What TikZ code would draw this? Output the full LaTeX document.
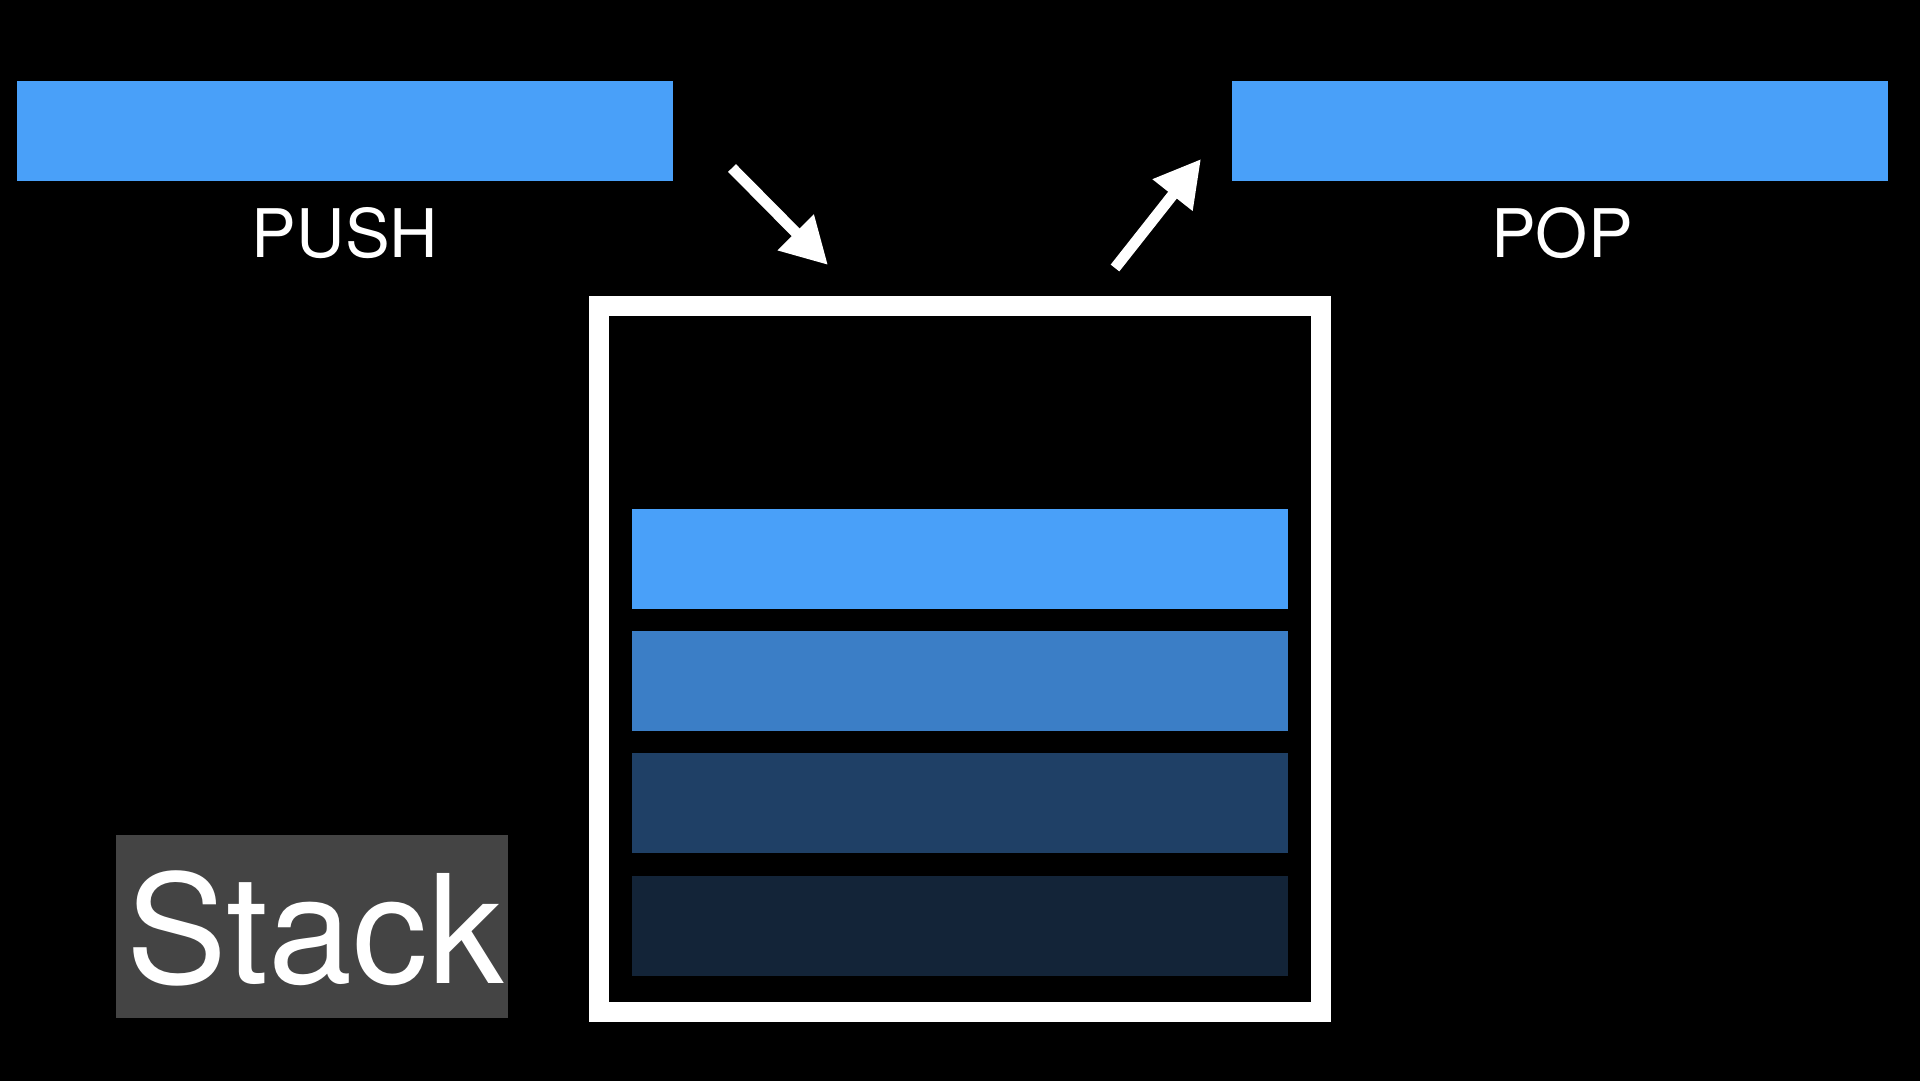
\documentclass[tikz,border=0pt]{standalone}
\usepackage{fontspec}
\setmainfont{TeX Gyre Heros}
\usetikzlibrary{arrows.meta}
\definecolor{barA}{RGB}{73,160,249}
\definecolor{barB}{RGB}{59,126,198}
\definecolor{barC}{RGB}{31,64,102}
\definecolor{barD}{RGB}{19,36,56}
\definecolor{labelgray}{RGB}{68,68,68}
\tikzset{
  bar/.style={draw=none, inner sep=0pt, minimum width=656pt, minimum height=100pt},
  oplabel/.style={text=white, anchor=base, inner sep=0pt, font=\fontsize{67}{67}\selectfont},
  opArrow/.style={draw=white, line width=11pt, line cap=butt, -{Triangle[length=46pt, width=48pt]}},
}
\begin{document}
\begin{tikzpicture}[x=1pt, y=-1pt]
\useasboundingbox (0,0) rectangle (1920,1080);
\fill[black] (-20,-20) rectangle (1940,1100);
% top bars
\node[bar, fill=barA] (pushbar) at (345,131) {};
\node[bar, fill=barA] (popbar) at (1560,131) {};
\node[oplabel] (pushlbl) at (345,257) {PUSH};
\node[oplabel] (poplbl) at (1562,257) {POP};
% container
\node[draw=white, line width=20pt, inner sep=0pt, minimum width=722pt, minimum height=706pt] (box) at (960,659) {};
% stack items
\node[bar, fill=barA] (s1) at (960,558.5) {};
\node[bar, fill=barB] (s2) at (960,681) {};
\node[bar, fill=barC] (s3) at (960,803) {};
\node[bar, fill=barD] (s4) at (960,926) {};
% arrows
\coordinate (pushtail) at (732,168);
\coordinate (pushtip) at (828,265);
\coordinate (poptail) at (1115,268);
\coordinate (poptip) at (1201,159);
\draw[opArrow] (pushtail) -- (pushtip);
\draw[opArrow] (poptail) -- (poptip);
% stack label
\node[fill=labelgray, inner sep=0pt, minimum width=392pt, minimum height=183pt] (stackbox) at (312,926.5) {};
\node[text=white, anchor=base, inner sep=0pt, font=\fontsize{151}{151}\selectfont] (stacklbl) at (315,983) {Stack};
\end{tikzpicture}
\end{document}
